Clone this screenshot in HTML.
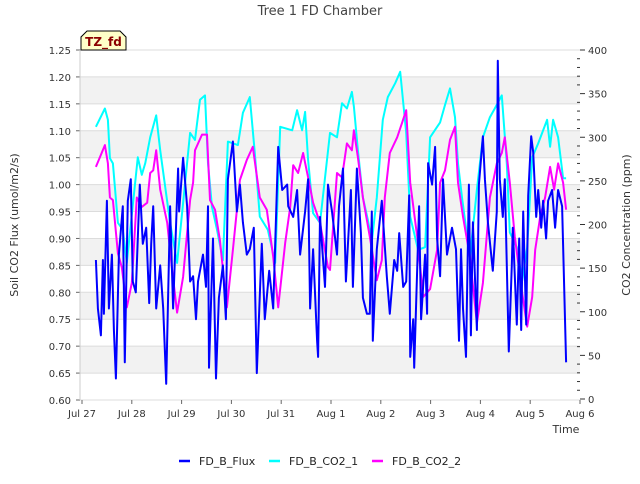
<!DOCTYPE html>
<html><head><meta charset="utf-8"><style>
body{margin:0;background:#fff;font-family:"DejaVu Sans","Liberation Sans",sans-serif;}
svg text{font-family:"DejaVu Sans","Liberation Sans",sans-serif;}
</style></head><body>
<svg id="chart" width="640" height="480" xmlns="http://www.w3.org/2000/svg">
<rect width="640" height="480" fill="#fff"/>
<g id="bands"></g>
<g id="grid"></g>
<g id="series"></g>
<g id="axes"></g>
<text x="320" y="15" text-anchor="middle" font-size="13" fill="#444">Tree 1 FD Chamber</text>
<text transform="translate(18,225) rotate(-90)" text-anchor="middle" font-size="11" fill="#333">Soil CO2 Flux (umol/m2/s)</text>
<text transform="translate(630,225) rotate(-90)" text-anchor="middle" font-size="11" fill="#333">CO2 Concentration (ppm)</text>
<text x="566" y="433" text-anchor="middle" font-size="11" fill="#333">Time</text>
<g>
<path d="M81,50 L81,37 L87,31 L120,31 L126,37 L126,50 Z" fill="#ffffc8" stroke="#000" stroke-width="1"/>
<text x="103.5" y="46" text-anchor="middle" font-size="12" font-weight="bold" fill="#8b0000">TZ_fd</text>
</g>
<g>
<g><line x1="179" y1="461" x2="190" y2="461" stroke="#0000ff" stroke-width="2.5"/><text x="199" y="465" font-size="11" fill="#222">FD_B_Flux</text></g>
<g><line x1="269" y1="461" x2="280" y2="461" stroke="#00ffff" stroke-width="2.5"/><text x="289" y="465" font-size="11" fill="#222">FD_B_CO2_1</text></g>
<g><line x1="372" y1="461" x2="383" y2="461" stroke="#ff00ff" stroke-width="2.5"/><text x="392" y="465" font-size="11" fill="#222">FD_B_CO2_2</text></g>
</g>
</svg>
<script>
const xTickLabels=["Jul 27","Jul 28","Jul 29","Jul 30","Jul 31","Aug 1","Aug 2","Aug 3","Aug 4","Aug 5","Aug 6"];
const leftTicks=[0.60,0.65,0.70,0.75,0.80,0.85,0.90,0.95,1.00,1.05,1.10,1.15,1.20,1.25];
const rightTicks=[0,50,100,150,200,250,300,350,400];
const co2aDays=[0.28,0.46,0.52,0.56,0.62,0.72,0.82,0.90,1.12,1.20,1.27,1.37,1.49,1.57,1.77,1.91,2.17,2.27,2.37,2.47,2.53,2.61,2.71,2.83,2.93,3.13,3.23,3.37,3.47,3.57,3.73,3.88,3.98,4.22,4.32,4.42,4.48,4.54,4.64,4.78,4.98,5.12,5.22,5.32,5.42,5.46,5.54,5.64,5.74,5.82,5.92,6.04,6.14,6.29,6.39,6.51,6.59,6.75,6.89,6.99,7.19,7.29,7.39,7.49,7.55,7.63,7.79,7.93,8.05,8.19,8.29,8.43,8.53,8.59,8.73,8.84,8.94,9.04,9.16,9.34,9.40,9.46,9.56,9.66,9.72];
const co2aVals=[312,333,320,276,270,202,194,156,277,257,270,300,325,285,202,156,305,297,343,348,270,220,194,159,295,291,328,346,282,209,194,156,312,308,331,308,329,274,213,202,305,300,339,333,352,335,285,231,205,180,231,320,346,362,375,305,209,171,174,300,317,337,356,323,270,231,163,240,300,323,333,348,270,191,174,136,174,277,293,320,289,320,300,253,253];
const co2bDays=[0.28,0.36,0.46,0.52,0.56,0.62,0.72,0.80,0.90,1.00,1.10,1.20,1.31,1.37,1.43,1.49,1.57,1.71,1.81,1.91,2.03,2.17,2.23,2.27,2.41,2.51,2.57,2.67,2.77,2.91,3.03,3.17,3.31,3.43,3.57,3.71,3.84,3.94,4.08,4.18,4.24,4.34,4.44,4.54,4.64,4.78,4.94,4.98,5.12,5.22,5.32,5.42,5.46,5.54,5.64,5.78,5.92,6.02,6.08,6.18,6.33,6.43,6.51,6.59,6.73,6.85,6.99,7.13,7.19,7.29,7.39,7.49,7.55,7.65,7.79,7.93,8.05,8.19,8.33,8.43,8.49,8.59,8.69,8.84,8.94,9.04,9.10,9.20,9.30,9.40,9.48,9.56,9.66,9.72];
const co2bVals=[266,277,291,270,231,228,167,151,105,133,231,220,225,259,262,285,240,202,148,99,140,228,248,285,303,303,228,217,182,105,171,251,274,289,231,217,163,105,179,220,268,259,282,254,225,202,151,148,259,254,293,285,308,277,231,186,136,159,231,282,300,317,331,248,186,117,126,171,248,262,297,312,248,209,163,87,133,231,270,282,300,248,186,121,83,117,171,209,231,266,240,270,248,217];
const fluxDays=[0.28,0.32,0.38,0.42,0.44,0.50,0.54,0.60,0.64,0.68,0.74,0.82,0.86,0.92,0.98,1.02,1.08,1.16,1.22,1.29,1.35,1.39,1.43,1.49,1.57,1.63,1.69,1.77,1.83,1.93,1.95,2.03,2.11,2.17,2.23,2.29,2.33,2.43,2.49,2.53,2.55,2.63,2.69,2.75,2.83,2.89,2.93,3.03,3.11,3.17,3.23,3.31,3.37,3.45,3.51,3.61,3.67,3.76,3.84,3.94,4.02,4.12,4.14,4.24,4.32,4.38,4.48,4.54,4.58,4.64,4.72,4.74,4.78,4.88,4.94,5.02,5.12,5.16,5.24,5.30,5.40,5.44,5.52,5.60,5.64,5.72,5.78,5.82,5.84,5.92,6.02,6.12,6.18,6.27,6.33,6.37,6.45,6.51,6.57,6.59,6.65,6.67,6.77,6.81,6.89,6.93,6.95,7.03,7.09,7.13,7.19,7.25,7.33,7.39,7.43,7.51,7.57,7.61,7.65,7.71,7.77,7.81,7.85,7.93,7.97,8.05,8.09,8.15,8.25,8.33,8.35,8.39,8.45,8.49,8.57,8.63,8.65,8.73,8.78,8.82,8.86,8.92,8.96,9.02,9.06,9.12,9.16,9.22,9.26,9.32,9.36,9.44,9.50,9.56,9.64,9.72];
const fluxVals=[0.86,0.77,0.72,0.86,0.76,0.97,0.77,0.87,0.73,0.64,0.87,0.96,0.67,0.97,1.01,0.82,0.80,1.00,0.89,0.92,0.78,0.89,0.96,0.77,0.85,0.77,0.63,0.96,0.77,1.03,0.95,1.05,0.96,0.82,0.83,0.75,0.82,0.87,0.81,0.96,0.66,0.90,0.64,0.79,0.85,0.75,1.01,1.08,0.95,1.00,0.93,0.87,0.88,0.92,0.65,0.89,0.75,0.84,0.77,1.07,0.99,1.00,0.96,0.94,0.99,0.87,0.95,1.01,0.77,0.88,0.71,0.68,0.94,0.81,1.00,0.95,0.87,0.96,1.03,0.82,0.99,0.81,1.03,0.91,0.79,0.76,0.76,0.95,0.71,0.88,0.97,0.83,0.76,0.86,0.84,0.91,0.81,0.82,0.98,0.68,0.75,0.66,0.96,0.75,0.87,0.76,1.04,1.00,1.07,0.90,0.83,1.01,0.87,0.90,0.92,0.88,0.71,0.88,0.77,0.68,1.00,0.72,0.93,0.73,1.00,1.09,1.01,0.93,0.84,0.95,1.23,1.01,0.94,1.01,0.69,0.85,0.92,0.74,0.90,0.73,0.95,0.74,0.98,1.09,1.06,0.94,0.99,0.92,0.97,0.90,0.97,0.99,0.92,0.99,0.96,0.67];

const L=80,R=580,T=50,B=400,X0=82,XD=49.8;
const xs=d=>X0+d*XD;
const yL=v=>B-(v-0.60)/(0.65)*(B-T);
const yR=v=>399-v*(349/400);
const NS="http://www.w3.org/2000/svg";
function mk(tag,attrs,parent){const e=document.createElementNS(NS,tag);for(const k in attrs)e.setAttribute(k,attrs[k]);parent.appendChild(e);return e;}
const bands=document.getElementById('bands'),grid=document.getElementById('grid'),axes=document.getElementById('axes'),series=document.getElementById('series');
for(let i=0;i<leftTicks.length-1;i++){
  if(i%2===1){const r=mk('rect',{x:L,y:yL(leftTicks[i+1]),width:R-L,height:yL(leftTicks[i])-yL(leftTicks[i+1]),fill:'#f2f2f2'},bands);
  
  }
}
leftTicks.forEach(v=>{
  const g=mk('line',{x1:L,x2:R,y1:yL(v),y2:yL(v),stroke:'#dcdcdc','stroke-width':1},grid);
  
  
  const t=mk('text',{x:L-9,y:yL(v)+4,'text-anchor':'end','font-size':10,fill:'#333'},axes);
  
  
  t.textContent=v.toFixed(2);
  mk('line',{x1:L-4,x2:L,y1:yL(v),y2:yL(v),stroke:'#666'},axes);
});
mk('line',{x1:L,x2:L,y1:T,y2:B,stroke:'#ccc'},axes);
rightTicks.forEach(v=>{
  const t=mk('text',{x:R+8,y:yR(v)+4,'text-anchor':'start','font-size':10,fill:'#333'},axes);
  
  
  t.textContent=v;
  mk('line',{x1:R,x2:R+5,y1:yR(v),y2:yR(v),stroke:'#333'},axes);
});
for(let v=0;v<=400;v+=10){if(v%50)mk('line',{x1:R-3,x2:R,y1:yR(v),y2:yR(v),stroke:'#333'},axes);}
xTickLabels.forEach((s,i)=>{
  const t=mk('text',{x:xs(i),y:417,'text-anchor':'middle','font-size':10,fill:'#333'},axes);
  
  
  t.textContent=s;
  mk('line',{x1:xs(i),x2:xs(i),y1:B,y2:B+4,stroke:'#666'},axes);
});
function line(days,vals,yf,color,name){
  const d=days.map((x,i)=>(i?'L':'M')+xs(x).toFixed(1)+','+yf(vals[i]).toFixed(1)).join('');
  const p=mk('path',{d:d,fill:'none',stroke:color,'stroke-width':2,'stroke-linejoin':'round'},series);
  
  
}
line(co2aDays,co2aVals,yR,'#00ffff','series-co2-1');
line(co2bDays,co2bVals,yR,'#ff00ff','series-co2-2');
line(fluxDays,fluxVals,yL,'#0000ff','series-flux');
</script>
</body></html>
